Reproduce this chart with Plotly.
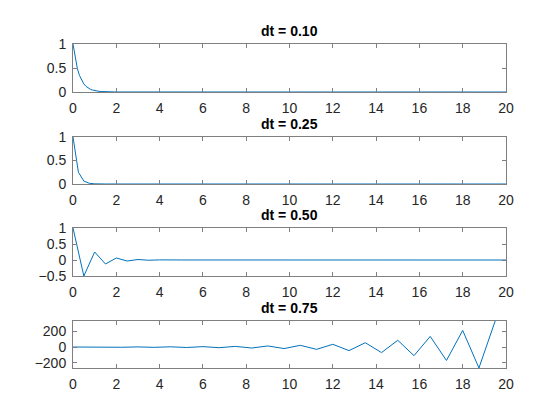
import plotly.graph_objects as go

# explicit Euler solutions, one series per step size
t_010 = [0, 0.1, 0.2, 0.3, 0.4, 0.5, 0.6, 0.7, 0.8, 0.9, 1.0, 1.1, 1.2, 1.3, 1.4,
         1.5, 1.6, 1.7, 1.8, 1.9, 2.0, 20]
y_010 = [1, 0.7, 0.49, 0.343, 0.2401, 0.16807, 0.11765, 0.08235, 0.05765, 0.04035,
         0.02825, 0.01977, 0.01384, 0.00969, 0.00678, 0.00475, 0.00332, 0.00233,
         0.00163, 0.00114, 0.0008, 0]

t_025 = [0, 0.25, 0.5, 0.75, 1.0, 1.25, 1.5, 20]
y_025 = [1, 0.25, 0.0625, 0.015625, 0.0039, 0.00098, 0.00024, 0]

t_050 = [0, 0.5, 1.0, 1.5, 2.0, 2.5, 3.0, 3.5, 4.0, 4.5, 5.0, 20]
y_050 = [1, -0.5, 0.25, -0.125, 0.0625, -0.03125, 0.015625, -0.0078, 0.0039,
         -0.002, 0.001, 0]

t_075 = [0, 0.75, 1.5, 2.25, 3.0, 3.75, 4.5, 5.25, 6.0, 6.75, 7.5, 8.25, 9.0,
         9.75, 10.5, 11.25, 12.0, 12.75, 13.5, 14.25, 15.0, 15.75, 16.5, 17.25,
         18.0, 18.75, 19.5]
y_075 = [1, -1.25, 1.56, -1.95, 2.44, -3.05, 3.81, -4.77, 5.96, -7.45, 9.31,
         -11.64, 14.55, -18.19, 22.74, -28.42, 35.53, -44.41, 55.51, -69.39,
         86.74, -108.42, 135.53, -169.41, 211.76, -264.7, 330.87]

titles = ["dt = 0.10", "dt = 0.25", "dt = 0.50", "dt = 0.75"]
series = [(t_010, y_010), (t_025, y_025), (t_050, y_050), (t_075, y_075)]
y_ranges = [[0, 1], [0, 1], [-0.5, 1], [-264.7, 330.87]]
y_ticks = [[0, 0.5, 1], [0, 0.5, 1], [-0.5, 0, 0.5, 1], [-200, 0, 200]]
x_ticks = [0, 2, 4, 6, 8, 10, 12, 14, 16, 18, 20]

# page body adds an 8px margin, so the figure is 16px smaller than the window
off = 8
W, H = 560 - 2 * off, 420 - 2 * off
left, right = 73 - off, 506 - off
tops = [p - off for p in [44, 137, 228, 321]]
bottoms = [p - off for p in [92, 184, 276, 368]]

font = "Liberation Sans, Arial, Helvetica, sans-serif"
axis_col = "#262626"
frame_col = "#7f7f7f"

fig = go.Figure()
annotations = []
for i, (t, y) in enumerate(series):
    n = "" if i == 0 else str(i + 1)
    fig.add_trace(go.Scatter(x=t, y=y, mode="lines",
                             line=dict(color="#0072BD", width=1),
                             xaxis="x" + n, yaxis="y" + n, showlegend=False))
    common = dict(showline=True, linecolor=frame_col, linewidth=1, mirror="ticks",
                  ticks="inside", ticklen=4, tickcolor=frame_col, showgrid=False,
                  zeroline=False, automargin=False,
                  tickfont=dict(family=font, size=14, color=axis_col))
    fig.update_layout({
        "xaxis" + n: dict(common, domain=[left / W, right / W], range=[0, 20],
                          tickvals=x_ticks, anchor="y" + n, ticklabelstandoff=3),
        "yaxis" + n: dict(common, domain=[1 - bottoms[i] / H, 1 - tops[i] / H],
                          range=y_ranges[i], tickvals=y_ticks[i], anchor="x" + n,
                          ticklabelstandoff=3),
    })
    annotations.append(dict(text="<b>" + titles[i] + "</b>", xref="paper", yref="paper",
                            x=(left + right) / 2 / W, y=1 - tops[i] / H,
                            xanchor="center", yanchor="bottom", yshift=3,
                            showarrow=False, font=dict(family=font, size=14, color="#000000")))

fig.update_layout(width=W, height=H, margin=dict(l=0, r=0, t=0, b=0),
                  paper_bgcolor="white", plot_bgcolor="white",
                  annotations=annotations)

fig.write_html("out.html")
